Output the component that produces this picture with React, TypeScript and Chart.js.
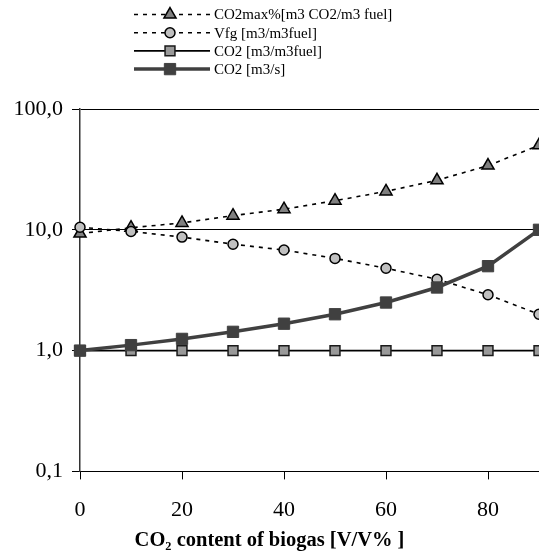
import React, { useEffect, useRef } from "react";
import { Chart, registerables } from "chart.js";

Chart.register(...registerables);

// ---- data ----
const xValues = [0, 10, 20, 30, 40, 50, 60, 70, 80, 90];
const co2MaxPct = [9.3, 10.4, 11.4, 13.1, 14.8, 17.4, 20.8, 25.7, 34.0, 50.0];
const vfg = [10.5, 9.7, 8.7, 7.6, 6.8, 5.8, 4.8, 3.9, 2.9, 2.0];
const co2PerFuel = [1.0, 1.0, 1.0, 1.0, 1.0, 1.0, 1.0, 1.0, 1.0, 1.0];
const co2Flow = [1.0, 1.11, 1.25, 1.43, 1.67, 2.0, 2.5, 3.33, 5.0, 10.0];
const seriesLabels = [
  "CO2max%[m3 CO2/m3 fuel]",
  "Vfg [m3/m3fuel]",
  "CO2 [m3/m3fuel]",
  "CO2 [m3/s]",
];
const xTickValues = [0, 20, 40, 60, 80];
const yTickValues = [0.1, 1, 10, 100];
const yTickLabels = ["0,1", "1,0", "10,0", "100,0"];
const xTitle = "CO\u2082 content of biogas [V/V% ]";

const FONT = "'Liberation Serif', 'Times New Roman', serif";

function drawMarker(
  ctx: CanvasRenderingContext2D,
  style: string,
  x: number,
  y: number,
  r: number,
  fill: string,
  stroke: string,
  bw: number
) {
  ctx.beginPath();
  if (style === "triangle") {
    let a = 0;
    ctx.moveTo(x + Math.sin(a) * r, y - Math.cos(a) * r);
    a += (2 * Math.PI) / 3;
    ctx.lineTo(x + Math.sin(a) * r, y - Math.cos(a) * r);
    a += (2 * Math.PI) / 3;
    ctx.lineTo(x + Math.sin(a) * r, y - Math.cos(a) * r);
    ctx.closePath();
  } else if (style === "circle") {
    ctx.arc(x, y, r, 0, Math.PI * 2);
  } else {
    const s = r * Math.SQRT1_2;
    ctx.rect(x - s, y - s, 2 * s, 2 * s);
  }
  ctx.fillStyle = fill;
  ctx.fill();
  ctx.lineWidth = bw;
  ctx.strokeStyle = stroke;
  ctx.stroke();
}

const stackLegend = {
  id: "stackLegend",
  afterDraw(chart: any) {
    const ctx = chart.ctx as CanvasRenderingContext2D;
    ctx.save();
    chart.data.datasets.forEach((ds: any, i: number) => {
      const y = 14.5 + i * 18.2;
      ctx.beginPath();
      ctx.setLineDash(ds.borderDash || []);
      ctx.lineWidth = ds.borderWidth;
      ctx.strokeStyle = ds.borderColor;
      ctx.moveTo(134, y);
      ctx.lineTo(210, y);
      ctx.stroke();
      ctx.setLineDash([]);
      drawMarker(
        ctx,
        ds.pointStyle,
        170,
        y,
        ds.pointRadius,
        ds.pointBackgroundColor,
        ds.pointBorderColor,
        ds.pointBorderWidth
      );
      ctx.fillStyle = "#000";
      ctx.font = `15px ${FONT}`;
      ctx.textBaseline = "middle";
      ctx.textAlign = "left";
      ctx.fillText(ds.label, 214, y + 1);
    });
    ctx.restore();
  },
};

const toPoints = (ys: number[]) => xValues.map((x, i) => ({ x, y: ys[i] }));

export default function App() {
  const ref = useRef<HTMLCanvasElement | null>(null);

  useEffect(() => {
    if (!ref.current) return;
    const chart = new Chart(ref.current, {
      type: "line",
      data: {
        datasets: [
          {
            label: seriesLabels[0],
            data: toPoints(co2MaxPct),
            borderColor: "#000",
            borderWidth: 1.6,
            borderDash: [4, 5],
            pointStyle: "triangle",
            pointRadius: 7,
            pointBackgroundColor: "#808080",
            pointBorderColor: "#000",
            pointBorderWidth: 1.5,
            tension: 0,
            clip: false,
            order: 2,
          },
          {
            label: seriesLabels[1],
            data: toPoints(vfg),
            borderColor: "#000",
            borderWidth: 1.6,
            borderDash: [4, 5],
            pointStyle: "circle",
            pointRadius: 5,
            pointBackgroundColor: "#c0c0c0",
            pointBorderColor: "#000",
            pointBorderWidth: 1.5,
            tension: 0,
            clip: false,
            order: 1,
          },
          {
            label: seriesLabels[2],
            data: toPoints(co2PerFuel),
            borderColor: "#000",
            borderWidth: 1.6,
            pointStyle: "rect",
            pointRadius: 7,
            pointBackgroundColor: "#999999",
            pointBorderColor: "#1a1a1a",
            pointBorderWidth: 1.5,
            tension: 0,
            clip: false,
            order: 3,
          },
          {
            label: seriesLabels[3],
            data: toPoints(co2Flow),
            borderColor: "#404040",
            borderWidth: 3.5,
            pointStyle: "rect",
            pointRadius: 8,
            pointBackgroundColor: "#404040",
            pointBorderColor: "#404040",
            pointBorderWidth: 1,
            tension: 0,
            clip: false,
            order: 0,
          },
        ],
      },
      options: {
        animation: false,
        responsive: false,
        devicePixelRatio: 1,
        layout: { autoPadding: false, padding: { top: 109, left: 0, right: 0, bottom: 0 } },
        plugins: {
          legend: { display: false },
          tooltip: { enabled: false },
          title: {
            display: true,
            position: "bottom",
            text: xTitle,
            color: "#000",
            font: { family: FONT, size: 20.5, weight: "bold" },
            padding: { top: 5, bottom: 6 },
          },
        },
        scales: {
          x: {
            type: "linear",
            min: 0,
            max: 90,
            afterBuildTicks: (s: any) => {
              s.ticks = xTickValues.map((v) => ({ value: v }));
            },
            afterFit: (s: any) => {
              s.height = 52;
            },
            grid: {
              drawOnChartArea: false,
              drawTicks: true,
              tickLength: 8,
              color: "#000",
            },
            border: { display: true, color: "#000", width: 1 },
            ticks: {
              padding: 18,
              color: "#000",
              font: { family: FONT, size: 22 },
              callback: (v: any) => String(v),
            },
          },
          y: {
            type: "logarithmic",
            min: 0.1,
            max: 100,
            afterBuildTicks: (s: any) => {
              s.ticks = yTickValues.map((v) => ({ value: v }));
            },
            afterFit: (s: any) => {
              s.width = 80;
            },
            grid: {
              color: "#000",
              lineWidth: 1,
              tickLength: 8,
            },
            border: { display: true, color: "#333", width: 1.5 },
            ticks: {
              padding: 9,
              color: "#000",
              font: { family: FONT, size: 22 },
              callback: (_v: any, idx: number) => yTickLabels[idx],
            },
          },
        },
      },
      plugins: [stackLegend],
    } as any);
    return () => chart.destroy();
  }, []);

  return (
    <div style={{ position: "fixed", left: 0, top: 0, width: 539, height: 559, background: "#fff" }}>
      <canvas ref={ref} width={539} height={559} style={{ width: 539, height: 559, display: "block" }} />
    </div>
  );
}
